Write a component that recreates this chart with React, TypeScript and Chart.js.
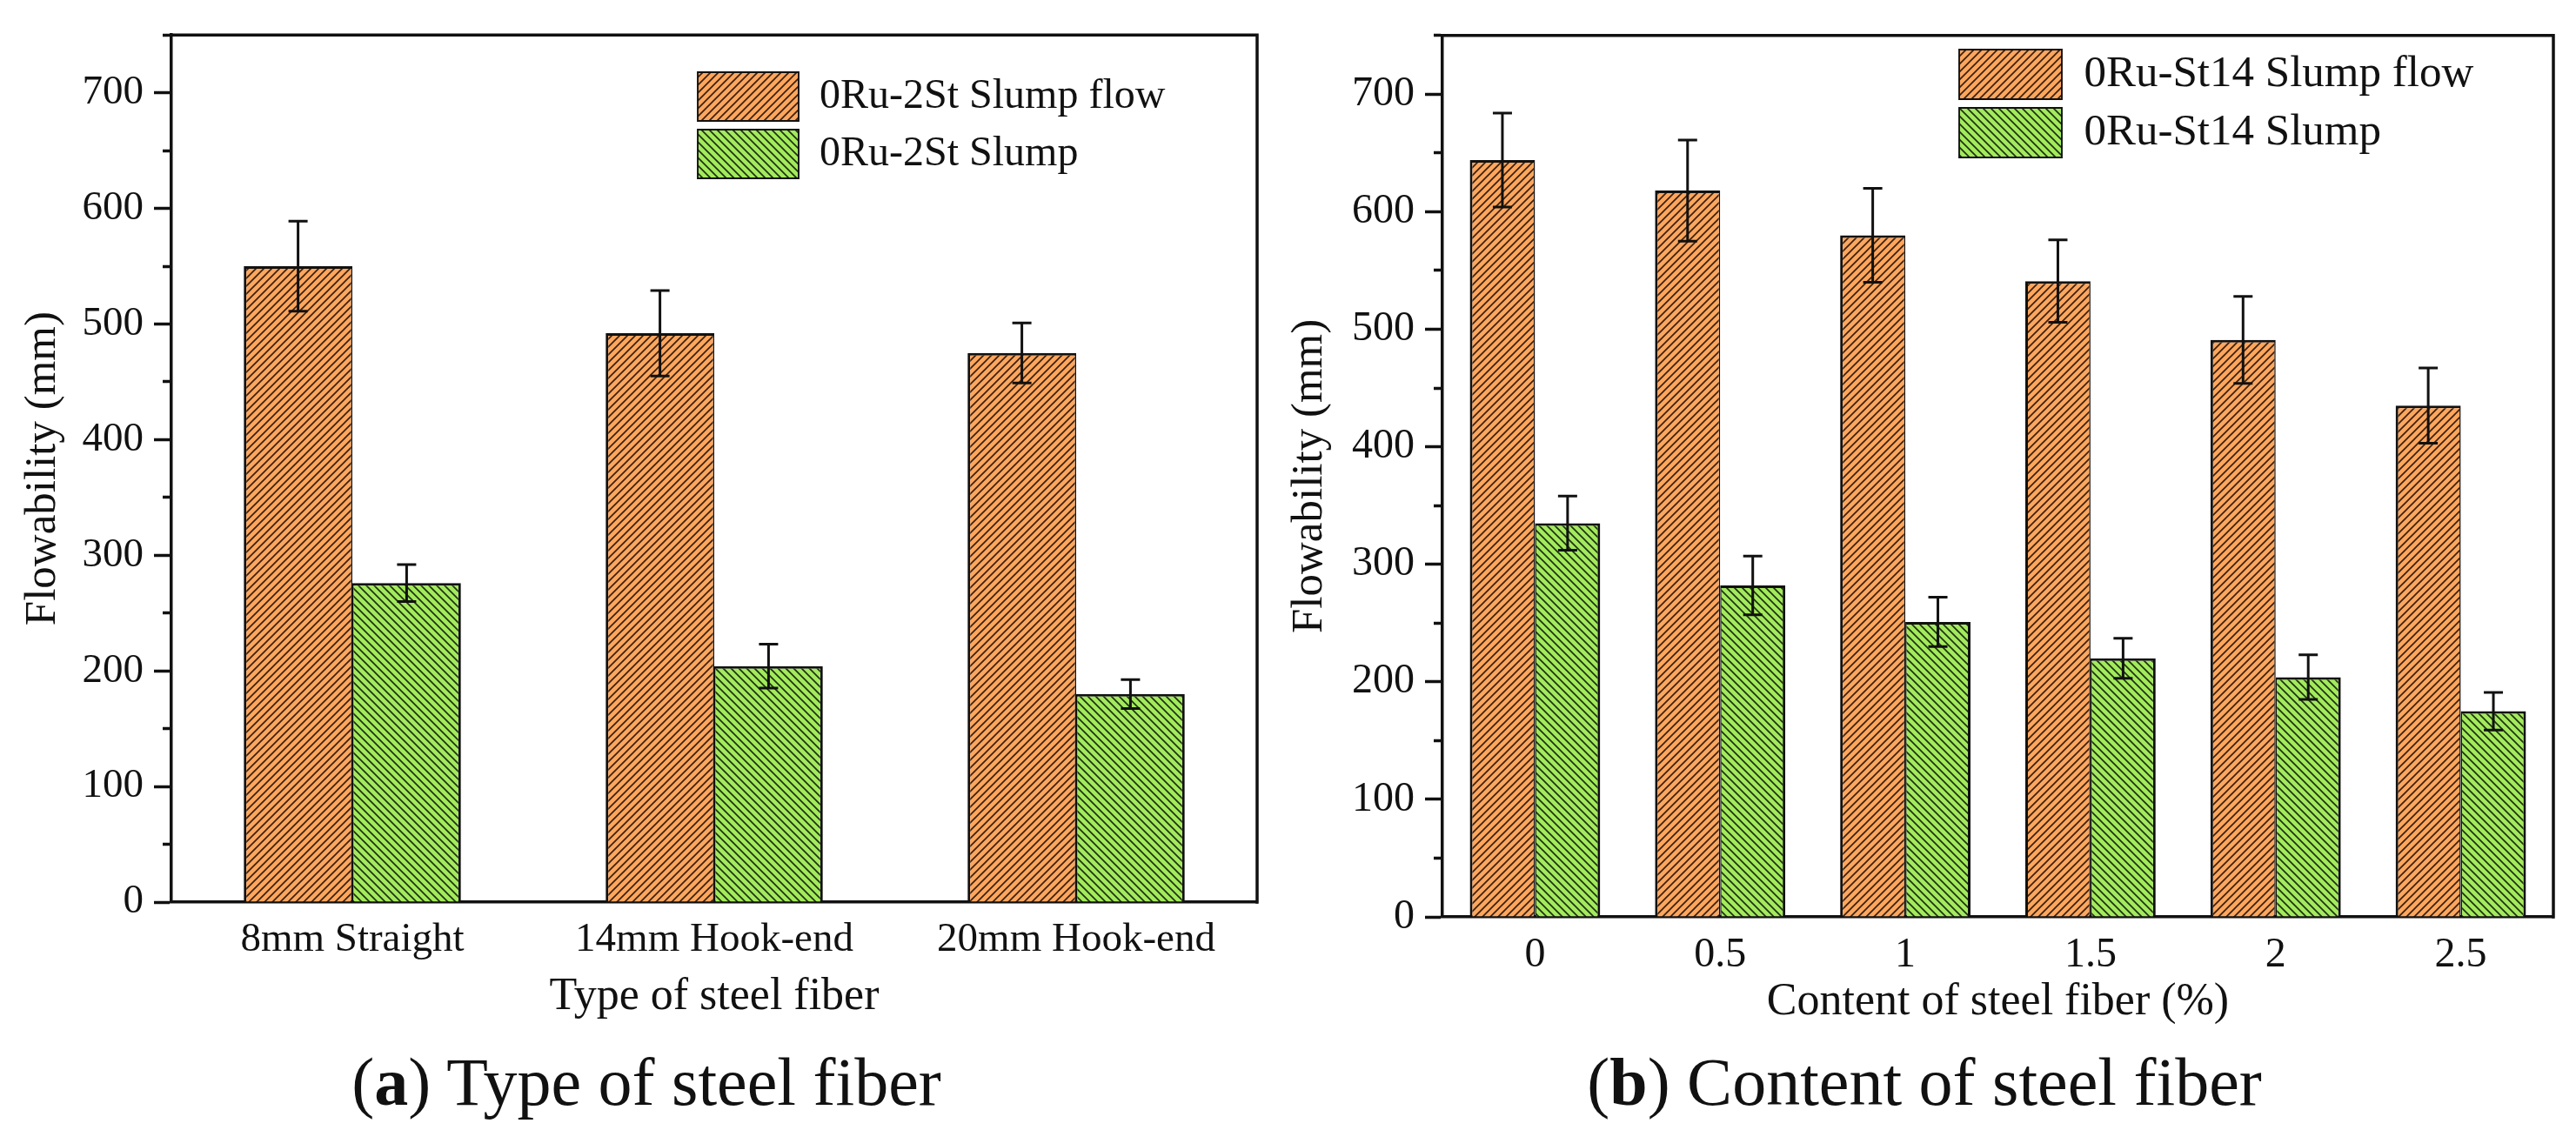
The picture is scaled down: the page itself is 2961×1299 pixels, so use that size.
import { useEffect, useRef } from "react"
import { Chart, registerables } from "chart.js"

Chart.register(...registerables)

// (a) type of steel fiber
const fiberTypes = ["8mm Straight", "14mm Hook-end", "20mm Hook-end"]
const typeFlow = [550, 492, 475]
const typeFlowErr = [39, 37, 26]
const typeSlump = [276, 204, 180]
const typeSlumpErr = [16, 19, 12.5]

// (b) content of steel fiber
const fiberContents = ["0", "0.5", "1", "1.5", "2", "2.5"]
const contentFlow = [644, 618, 580, 541, 491, 435]
const contentFlowErr = [40, 43, 40, 35, 37, 32]
const contentSlump = [335, 282, 251, 220, 204, 175]
const contentSlumpErr = [23, 25, 21, 17, 19, 16]

// y axis: 0..750, labels every 100 (up to 700), minor ticks every 50
const Y_MAX = 750
const Y_MAJOR = 100
const Y_MINOR = 50
const Y_LABEL_TOP = 700

const FONT = "'Liberation Serif', 'Times New Roman', serif"
const INK = "#111111"
const ORANGE = "#FDA65E"
const GREEN = "#A3EA5C"

function hatch(ctx: CanvasRenderingContext2D, bg: string, ink: string, rising: boolean) {
  const s = 9
  const c = document.createElement("canvas")
  c.width = s
  c.height = s
  const g = c.getContext("2d")!
  g.fillStyle = bg
  g.fillRect(0, 0, s, s)
  g.strokeStyle = ink
  g.lineWidth = 1.7
  g.beginPath()
  if (rising) {
    g.moveTo(0, s); g.lineTo(s, 0)
    g.moveTo(-2, 2); g.lineTo(2, -2)
    g.moveTo(s - 2, s + 2); g.lineTo(s + 2, s - 2)
  } else {
    g.moveTo(0, 0); g.lineTo(s, s)
    g.moveTo(-2, s - 2); g.lineTo(2, s + 2)
    g.moveTo(s - 2, -2); g.lineTo(s + 2, 2)
  }
  g.stroke()
  return ctx.createPattern(c, "repeat")!
}

const errorBars = {
  id: "errorBars",
  afterDatasetsDraw(chart: any) {
    const { ctx } = chart
    const y = chart.scales.y
    ctx.save()
    ctx.strokeStyle = INK
    ctx.lineWidth = 3
    chart.data.datasets.forEach((ds: any, i: number) => {
      const errs: number[] | undefined = ds.errors
      if (!errs) return
      chart.getDatasetMeta(i).data.forEach((bar: any, j: number) => {
        const v = ds.data[j]
        const hi = y.getPixelForValue(v + errs[j])
        const lo = y.getPixelForValue(v - errs[j])
        ctx.beginPath()
        ctx.moveTo(bar.x, hi); ctx.lineTo(bar.x, lo)
        ctx.moveTo(bar.x - 11, hi); ctx.lineTo(bar.x + 11, hi)
        ctx.moveTo(bar.x - 11, lo); ctx.lineTo(bar.x + 11, lo)
        ctx.stroke()
      })
    })
    ctx.restore()
  },
}

const frame = {
  id: "frame",
  afterDatasetsDraw(chart: any) {
    const { ctx, chartArea: { left, top, right, bottom } } = chart
    ctx.save()
    ctx.strokeStyle = INK
    ctx.lineWidth = 3.5
    ctx.beginPath()
    ctx.moveTo(left - 1.75, top)
    ctx.lineTo(right, top)
    ctx.lineTo(right, bottom + 1.75)
    ctx.stroke()
    ctx.restore()
  },
}

interface Layout {
  width: number
  height: number
  padTop: number
  padRight: number
  padBottom: number
  yAxisW: number
  xAxisH: number
  yTitlePad: number
  xTickPad: number
  tickSize: number
  legendSize: number
  legendX: number
  legendY: number
  boxW: number
  boxH: number
  groupPct: number
}

interface PanelProps {
  categories: string[]
  flow: number[]
  flowErr: number[]
  slump: number[]
  slumpErr: number[]
  flowLabel: string
  slumpLabel: string
  xTitle: string
  layout: Layout
}

function Panel({ categories, flow, flowErr, slump, slumpErr, flowLabel, slumpLabel, xTitle, layout: L }: PanelProps) {
  const canvasRef = useRef<HTMLCanvasElement>(null)
  const chartRef = useRef<Chart | null>(null)

  useEffect(() => {
    if (!canvasRef.current) return
    const ctx = canvasRef.current.getContext("2d")
    if (!ctx) return
    chartRef.current?.destroy()

    // legend sits inside the plot, top right
    const legendSpot = {
      id: "legendSpot",
      afterLayout(chart: any) {
        if (!chart.legend) return
        chart.legend.left = L.legendX - 10
        chart.legend.top = L.legendY - 10
      },
    }

    chartRef.current = new Chart(ctx, {
      type: "bar",
      data: {
        labels: categories,
        datasets: [
          {
            label: flowLabel,
            data: flow,
            errors: flowErr,
            backgroundColor: hatch(ctx, ORANGE, "#3a200c", true),
            borderColor: INK,
            borderWidth: { top: 3, left: 3, right: 1.5, bottom: 0 },
            categoryPercentage: L.groupPct,
            barPercentage: 1,
          } as any,
          {
            label: slumpLabel,
            data: slump,
            errors: slumpErr,
            backgroundColor: hatch(ctx, GREEN, "#1e3210", false),
            borderColor: INK,
            borderWidth: { top: 3, left: 1.5, right: 3, bottom: 0 },
            categoryPercentage: L.groupPct,
            barPercentage: 1,
          } as any,
        ],
      },
      options: {
        responsive: false,
        devicePixelRatio: 1,
        animation: false,
        events: [],
        layout: { padding: { left: 0, top: L.padTop, right: L.padRight, bottom: L.padBottom } },
        plugins: {
          tooltip: { enabled: false },
          legend: {
            position: "chartArea",
            align: "start",
            labels: {
              color: INK,
              font: { family: FONT, size: L.legendSize },
              boxWidth: L.boxW,
              boxHeight: L.boxH,
              padding: 10,
            },
          },
        },
        scales: {
          x: {
            type: "category",
            grid: { display: true, drawOnChartArea: false, drawTicks: false },
            border: { display: true, color: INK, width: 3.5 },
            ticks: {
              color: INK,
              font: { family: FONT, size: L.tickSize },
              padding: L.xTickPad,
              autoSkip: false,
              maxRotation: 0,
            },
            title: {
              display: true,
              text: xTitle,
              color: INK,
              font: { family: FONT, size: 52, lineHeight: 1 },
              padding: 0,
            },
            afterFit: (s: any) => { s.height = L.xAxisH },
          },
          y: {
            min: 0,
            max: Y_MAX,
            grid: {
              drawOnChartArea: false,
              tickLength: 20,
              tickWidth: 3.5,
              tickColor: INK,
              tickBorderDash: (c: any) => (c.tick && c.tick.value % Y_MAJOR !== 0 ? [0, 10, 12, 0] : []),
            },
            border: { display: true, color: INK, width: 3.5 },
            ticks: {
              stepSize: Y_MINOR,
              autoSkip: false,
              padding: 12,
              color: INK,
              font: { family: FONT, size: L.tickSize },
              callback: (v: any) => (v % Y_MAJOR === 0 && v <= Y_LABEL_TOP ? String(v) : ""),
            },
            title: {
              display: true,
              text: "Flowability (mm)",
              color: INK,
              font: { family: FONT, size: 51, lineHeight: 1 },
              padding: { top: L.yTitlePad, bottom: 0 },
            },
            afterFit: (s: any) => { s.width = L.yAxisW },
          },
        },
      } as any,
      plugins: [errorBars, frame, legendSpot],
    })

    return () => { chartRef.current?.destroy() }
  }, [categories, flow, flowErr, slump, slumpErr, flowLabel, slumpLabel, xTitle, L])

  return (
    <canvas
      ref={canvasRef}
      width={L.width}
      height={L.height}
      style={{ display: "block", width: L.width, height: L.height }}
    />
  )
}

const LEFT: Layout = {
  width: 1480, height: 1299,
  padTop: 31, padRight: 35, padBottom: 126.5,
  yAxisW: 197, xAxisH: 135.5,
  yTitlePad: 24.5, xTickPad: 15,
  tickSize: 47, legendSize: 48,
  legendX: 802, legendY: 83, boxW: 116, boxH: 56,
  groupPct: 0.6,
}

const RIGHT: Layout = {
  width: 1481, height: 1299,
  padTop: 26, padRight: 26, padBottom: 120.5,
  yAxisW: 178, xAxisH: 124.5,
  yTitlePad: 0, xTickPad: 16,
  tickSize: 48, legendSize: 51,
  legendX: 772, legendY: 57, boxW: 118, boxH: 57,
  groupPct: 0.704,
}

const captionStyle: React.CSSProperties = {
  position: "absolute",
  top: 1205,
  fontFamily: FONT,
  fontSize: 78,
  lineHeight: 1,
  color: INK,
  textAlign: "center",
  whiteSpace: "nowrap",
}

export default function App() {
  return (
    <div style={{ position: "absolute", left: 0, top: 0, width: 2961, height: 1299, background: "#fff", overflow: "hidden" }}>
      <div style={{ position: "absolute", left: 0, top: 0 }}>
        <Panel
          categories={fiberTypes}
          flow={typeFlow}
          flowErr={typeFlowErr}
          slump={typeSlump}
          slumpErr={typeSlumpErr}
          flowLabel="0Ru-2St Slump flow"
          slumpLabel="0Ru-2St Slump"
          xTitle="Type of steel fiber"
          layout={LEFT}
        />
      </div>
      <div style={{ position: "absolute", left: 1480, top: 0 }}>
        <Panel
          categories={fiberContents}
          flow={contentFlow}
          flowErr={contentFlowErr}
          slump={contentSlump}
          slumpErr={contentSlumpErr}
          flowLabel="0Ru-St14 Slump flow"
          slumpLabel="0Ru-St14 Slump"
          xTitle="Content of steel fiber (%)"
          layout={RIGHT}
        />
      </div>
      <div style={{ ...captionStyle, left: 0, width: 1486 }}>
        (<b>a</b>) Type of steel fiber
      </div>
      <div style={{ ...captionStyle, left: 1480, width: 1464 }}>
        (<b>b</b>) Content of steel fiber
      </div>
    </div>
  )
}
